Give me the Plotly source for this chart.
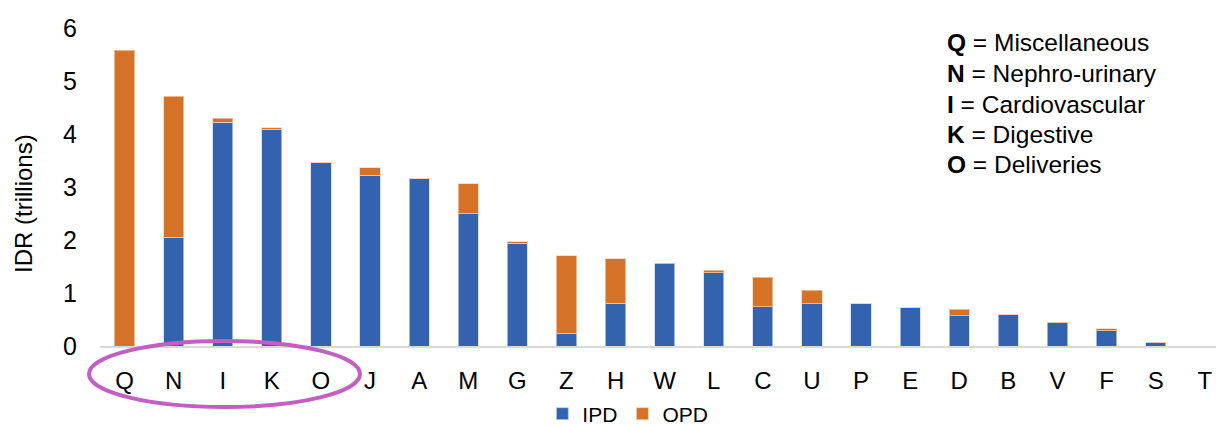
import plotly.graph_objects as go

categories = ["Q", "N", "I", "K", "O", "J", "A", "M", "G", "Z", "H", "W",
              "L", "C", "U", "P", "E", "D", "B", "V", "F", "S", "T"]
ipd = [0.0, 2.05, 4.22, 4.09, 3.455, 3.22, 3.16, 2.50, 1.94, 0.24, 0.81, 1.55,
       1.38, 0.74, 0.80, 0.80, 0.72, 0.57, 0.59, 0.45, 0.29, 0.07, 0.0]
opd = [5.58, 2.66, 0.08, 0.03, 0.005, 0.14, 0.0, 0.56, 0.03, 1.46, 0.84, 0.01,
       0.05, 0.56, 0.25, 0.0, 0.0, 0.12, 0.0, 0.0, 0.04, 0.0, 0.0]
y_ticks = [0, 1, 2, 3, 4, 5, 6]
key_lines = [("Q", "Miscellaneous"), ("N", "Nephro-urinary"), ("I", "Cardiovascular"),
             ("K", "Digestive"), ("O", "Deliveries")]

BLUE = "#3363AF"
ORANGE = "#D57228"
FONT = "Liberation Sans, Arial, sans-serif"

fig = go.Figure()
fig.add_trace(go.Bar(x=categories, y=ipd, name="IPD", marker=dict(color=BLUE,
                     line=dict(color="rgba(200,215,240,0.7)", width=1))))
fig.add_trace(go.Bar(x=categories, y=opd, name="OPD", marker=dict(color=ORANGE,
                     line=dict(color="rgba(245,210,180,0.7)", width=1))))

W, H = 1216, 428
L, R, T, B = 100, 0, 18, 82
pw, ph = W - L - R, H - T - B
px_per_cat = 49.1
px_per_unit = 53.0

fig.update_layout(
    width=W, height=H,
    margin=dict(l=L, r=R, t=T, b=B, autoexpand=False),
    barmode="stack", bargap=0.59,
    plot_bgcolor="white", paper_bgcolor="white",
    font=dict(family=FONT, color="#000000", size=22),
    showlegend=True,
    legend=dict(orientation="h", x=0.473, xanchor="center", y=(T + ph - 414) / ph,
                yanchor="middle", font=dict(size=21, family=FONT), itemwidth=30,
                traceorder="normal", tracegroupgap=0),
    xaxis=dict(range=[-0.5, -0.5 + pw / px_per_cat], showline=True, linecolor="#D9D9D9",
               linewidth=2, showgrid=False, ticks="", tickfont=dict(size=24, family=FONT),
               ticklabelstandoff=12, automargin=False),
    yaxis=dict(range=[0, ph / px_per_unit], tickvals=y_ticks, showgrid=False, zeroline=False,
               showline=False, ticks="", tickfont=dict(size=25, family=FONT),
               ticklabelstandoff=22, automargin=False),
)

def xp(px):
    return (px - L) / pw

def yp(py):
    return (T + ph - py) / ph

fig.add_annotation(text="IDR (trillions)", textangle=-90, xref="paper", yref="paper",
                   x=xp(23), y=yp(204), showarrow=False, xanchor="center", yanchor="middle",
                   font=dict(size=24, family=FONT))

for i, (k, v) in enumerate(key_lines):
    fig.add_annotation(text=f"<b>{k}</b> = {v}", xref="paper", yref="paper",
                       x=xp(945), y=yp(43 + i * 30.5), xanchor="left", yanchor="middle",
                       align="left", showarrow=False, font=dict(size=24.5, family=FONT))

fig.add_shape(type="circle", xref="paper", yref="paper", x0=xp(89), x1=xp(360),
              y0=yp(407), y1=yp(341), line=dict(color="#C25FC2", width=4))

fig.write_html("out.html", config={"displayModeBar": False},
               post_script="document.body.style.margin='0';document.body.style.overflow='hidden';")
